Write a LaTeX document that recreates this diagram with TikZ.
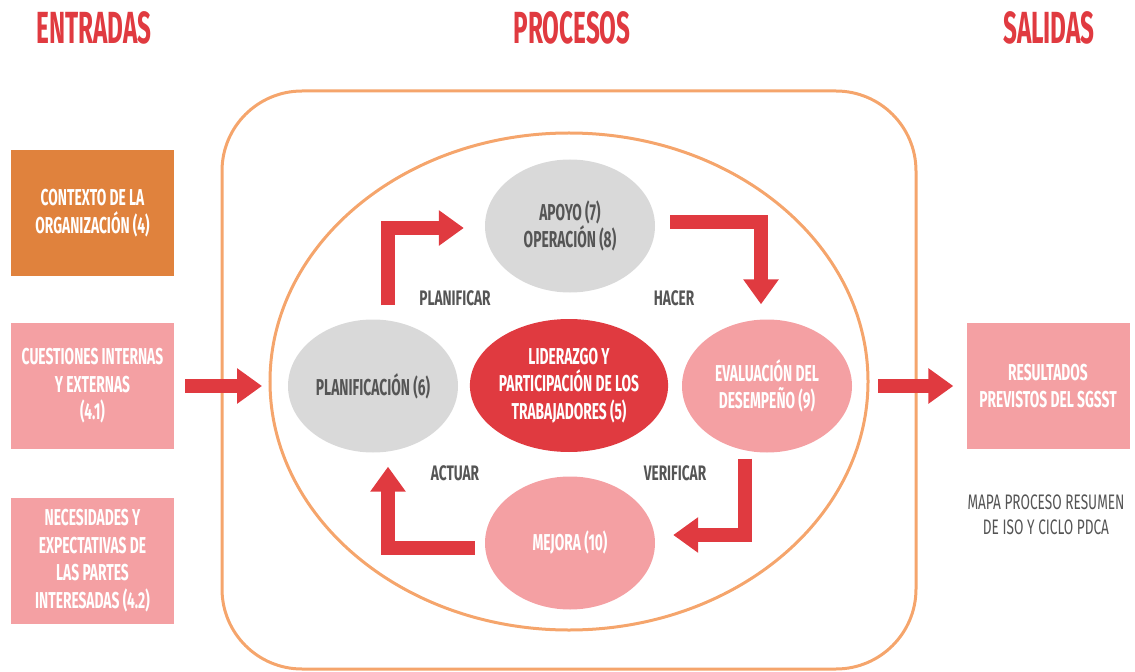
\documentclass[tikz,border=0pt]{standalone}
\usepackage{fontspec}
\setmainfont{Fira Sans}
\newfontfamily\bodyf[FakeStretch=0.6]{Fira Sans}
\newfontfamily\labelf[FakeStretch=0.65]{Fira Sans}
\newfontfamily\titlef[FakeStretch=0.54]{Fira Sans}
\usetikzlibrary{shapes.geometric,arrows.meta,calc}
\definecolor{rojo}{HTML}{E03A40}
\definecolor{rosa}{HTML}{F4A0A3}
\definecolor{naranja}{HTML}{E0823D}
\definecolor{lineanar}{HTML}{F5A56C}
\definecolor{gris}{HTML}{D9D9D9}
\definecolor{textogris}{HTML}{555555}
\tikzset{
  titulo/.style={text=rojo, font=\titlef\bfseries\fontsize{45bp}{45bp}\selectfont, inner sep=0pt},
  caja/.style={rectangle, minimum width=163bp, minimum height=126bp, inner sep=0pt, align=center, text=white,
    font=\bodyf\bfseries\fontsize{23bp}{27.5bp}\selectfont},
  elip/.style={ellipse, minimum width=170bp, minimum height=133bp, inner sep=0pt, align=center,
    font=\bodyf\bfseries\fontsize{23bp}{27.5bp}\selectfont},
  etiqueta/.style={text=textogris, font=\labelf\bfseries\fontsize{21bp}{24bp}\selectfont, inner sep=0pt},
  flecha/.style={draw=rojo, line width=14bp, line join=miter, line cap=butt,
    -{Triangle[length=25bp,width=34bp]}},
  contorno/.style={draw=lineanar, line width=3bp}
}
\begin{document}
\begin{tikzpicture}[x=1bp,y=-1bp]
\useasboundingbox (0,0) rectangle (1135,672);
% titles
\node[titulo] (tEnt) at (94,28) {ENTRADAS};
\node[titulo] (tPro) at (572,28) {PROCESOS};
\node[titulo] (tSal) at (1049,28) {SALIDAS};
% outer rounded frame and cycle ellipse
\draw[contorno, rounded corners=80bp] (222,91) rectangle (916,669);
\node[contorno, ellipse, minimum width=598bp, minimum height=497bp, inner sep=0pt] (ciclo) at (569,381.5) {};
% input boxes
\node[caja, fill=naranja] (contexto) at (92.5,213) {CONTEXTO DE LA\\ORGANIZACIÓN (4)};
\node[caja, fill=rosa] (cuest) at (92.5,386) {CUESTIONES INTERNAS\\Y EXTERNAS\\(4.1)};
\node[caja, fill=rosa] (neces) at (92.5,560.5) {NECESIDADES Y\\EXPECTATIVAS DE\\LAS PARTES\\INTERESADAS (4.2)};
% output box
\node[caja, fill=rosa] (result) at (1048,386) {RESULTADOS\\PREVISTOS DEL SGSST};
\node[text=textogris, font=\labelf\fontsize{21bp}{25bp}\selectfont, align=center, inner sep=0pt] (mapa) at (1046,514.5) {MAPA PROCESO RESUMEN\\DE ISO Y CICLO PDCA};
% cycle ellipses
\node[elip, fill=gris, text=textogris] (apoyo) at (570,226) {APOYO (7)\\OPERACIÓN (8)};
\node[elip, fill=gris, text=textogris] (plan) at (373,386) {PLANIFICACIÓN (6)};
\node[elip, fill=rojo, text=white] (lider) at (569,385.5) {LIDERAZGO Y\\PARTICIPACIÓN DE LOS\\TRABAJADORES (5)};
\node[elip, fill=rosa, text=white] (eval) at (767,386) {EVALUACIÓN DEL\\DESEMPEÑO (9)};
\node[elip, fill=rosa, text=white] (mejora) at (570,543) {MEJORA (10)};
% phase labels
\node[etiqueta] (lPlan) at (455,298) {PLANIFICAR};
\node[etiqueta] (lHacer) at (674,298) {HACER};
\node[etiqueta] (lActuar) at (455,473) {ACTUAR};
\node[etiqueta] (lVerif) at (675,473) {VERIFICAR};
% cycle arrows
\draw[flecha] ([xshift=15bp,yshift=14bp]plan.north) |- ([xshift=-21bp,yshift=-2bp]apoyo.west);
\draw[flecha] ([xshift=15bp,yshift=4bp]apoyo.east) -| ([xshift=-6bp,yshift=15bp]eval.north);
\draw[flecha] ([xshift=-22bp,yshift=-6bp]eval.south) |- ([xshift=18bp,yshift=8bp]mejora.east);
\draw[flecha] ([xshift=-10bp,yshift=-5bp]mejora.west) -| ([xshift=15bp,yshift=-14bp]plan.south);
% input / output arrows
\coordinate (inTip) at (262,386);
\coordinate (outStart) at (878,386);
\draw[flecha] ([xshift=11bp]cuest.east) -- (inTip);
\draw[flecha] (outStart) -- ([xshift=-13bp]result.west);
\end{tikzpicture}
\end{document}
